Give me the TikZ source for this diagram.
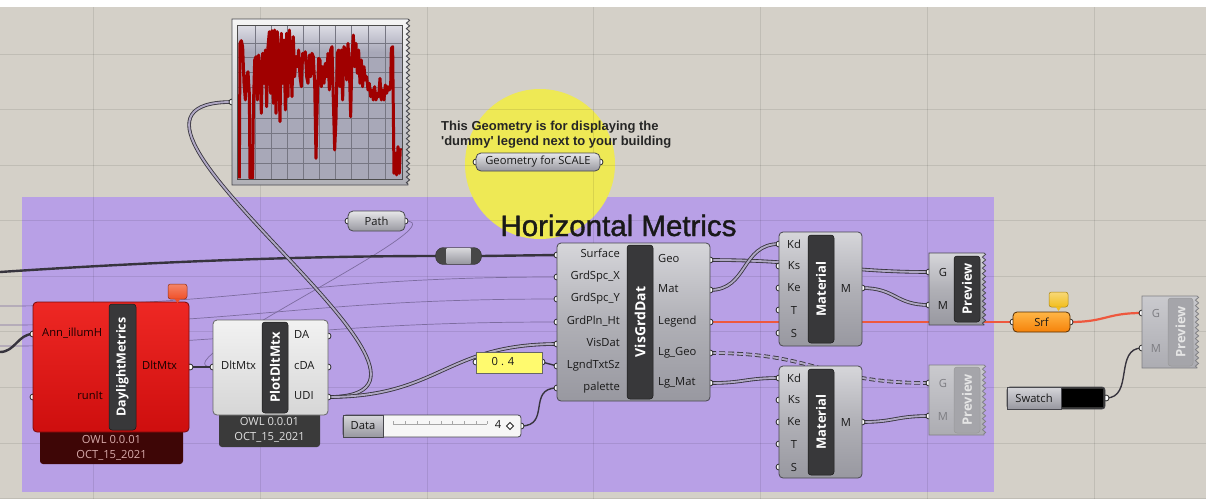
\documentclass[tikz,border=0pt]{standalone}
\usepackage{fontspec}
\setmainfont{Open Sans}
\newfontfamily\arialf{Liberation Sans}
\newfontfamily\arialmed[FakeBold=1.2]{Liberation Sans}
\usetikzlibrary{decorations.pathmorphing}
\definecolor{canvasc}{RGB}{212,208,200}
\definecolor{groupc}{RGB}{184,160,230}
\definecolor{yellowc}{RGB}{238,233,85}
\definecolor{ghtop}{RGB}{214,214,218}
\definecolor{ghmid}{RGB}{176,176,182}
\definecolor{ghbot}{RGB}{152,152,160}
\definecolor{ghedge}{RGB}{72,72,78}
\definecolor{stripc}{RGB}{56,56,58}
\definecolor{labc}{RGB}{25,25,25}
\definecolor{distop}{RGB}{202,202,206}
\definecolor{disbot}{RGB}{172,172,178}
\definecolor{disstrip}{RGB}{165,165,170}
\definecolor{distext}{RGB}{125,125,130}
\definecolor{redtop}{RGB}{238,40,36}
\definecolor{redbot}{RGB}{206,14,14}
\definecolor{rededge}{RGB}{120,10,10}
\definecolor{redfoot}{RGB}{62,6,6}
\definecolor{redft}{RGB}{215,170,170}
\definecolor{whtop}{RGB}{242,242,242}
\definecolor{whbot}{RGB}{214,214,214}
\definecolor{greyfoot}{RGB}{58,58,58}
\definecolor{wiredark}{RGB}{55,52,62}
\definecolor{wirein}{RGB}{176,168,196}
\definecolor{thinw}{RGB}{125,108,160}
\definecolor{redw}{RGB}{238,88,62}
\definecolor{plotbg}{RGB}{168,168,184}
\definecolor{plottop}{RGB}{222,222,230}
\definecolor{plotgrid}{RGB}{118,118,130}
\definecolor{plotred}{RGB}{160,0,0}
\definecolor{orgtop}{RGB}{255,182,70}
\definecolor{orgbot}{RGB}{245,130,10}
\definecolor{panelc}{RGB}{255,250,110}
\definecolor{balred}{RGB}{240,80,40}
\definecolor{balyel}{RGB}{242,190,30}
\tikzset{
  gridl/.style={black, opacity=0.09, line width=0.8pt},
  wdbl/.style={draw=wiredark, line width=0.85pt, double=wirein, double distance=1.9pt},
  wdash/.style={wdbl, dash pattern=on 6pt off 3pt},
  wthk/.style={draw=wiredark, line width=2.4pt},
  wone/.style={draw=wiredark, line width=1.4pt},
  wthin/.style={draw=thinw, line width=0.7pt},
  wred/.style={draw=redw, line width=2.2pt},
  portc/.style={draw=black!85, fill=white, line width=0.8pt},
  gbody/.style={draw=ghedge, line width=0.8pt, rounded corners=4pt, top color=ghtop, bottom color=ghbot, middle color=ghmid, inner sep=0pt},
  strip/.style={draw=black!90, fill=stripc, rounded corners=3pt, line width=0.5pt, inner sep=0pt},
  dstrip/.style={draw=black!40, fill=disstrip, rounded corners=3pt, line width=0.5pt, inner sep=0pt},
  stext/.style={text=white, font=\bfseries\fontsize{13}{13}\selectfont, rotate=90, inner sep=0pt},
  dstext/.style={stext, text=white!80!gray},
  plab/.style={font=\fontsize{11.2}{12}\selectfont, text=labc, inner sep=0pt},
  dlab/.style={plab, text=distext},
  ftxt/.style={font=\fontsize{11.2}{12}\selectfont, inner sep=0pt},
  zz/.style={decoration={zigzag, segment length=5.5pt, amplitude=1.6pt}},
  param/.style={draw=ghedge, line width=0.8pt, rounded corners=5pt, top color=ghtop!60!white, bottom color=ghbot, inner sep=0pt},
  balloon/.style={rounded corners=2.5pt, inner sep=0pt},
}
\begin{document}
\begin{tikzpicture}[x=1pt,y=-1pt]
\useasboundingbox (0,0) rectangle (1206,499);
\fill[canvasc] (0,0) rectangle (1206,499);
\fill[white] (0,0) rectangle (1206,7);
% group
\fill[groupc] (22,197) rectangle (994,492);
% yellow circle
\fill[yellowc] (540,164) circle[radius=75pt];
% grid
\foreach \gx in {93,260,427,593,760,927,1094} \draw[gridl] (\gx,7) -- (\gx,499);
\foreach \gy in {54,109,165,220,276,331,387,443,498} \draw[gridl] (0,\gy) -- (1206,\gy);
% title and note
\node[anchor=base, inner sep=0pt, font=\arialmed\fontsize{29.5}{30}\selectfont, text=black!90] (title) at (618.5,236) {Horizontal Metrics};
\node[anchor=base west, inner sep=0pt, font=\arialf\bfseries\fontsize{13}{14}\selectfont, text=black!85] (note1) at (441,130.5) {This Geometry is for displaying the};
\node[anchor=base west, inner sep=0pt, font=\arialf\bfseries\fontsize{13}{14}\selectfont, text=black!85] (note2) at (441,145.5) {'dummy' legend next to your building};

% ---------- port coordinates
\coordinate (dm-i1) at (33,334); \coordinate (dm-i2) at (33,397); \coordinate (dm-o) at (190,367);
\coordinate (pd-i) at (213,367); \coordinate (pd-da) at (328,336); \coordinate (pd-cda) at (328,367); \coordinate (pd-udi) at (328,397);
\coordinate (gr-i) at (232,102);
\coordinate (pa-i) at (348,221); \coordinate (pa-o) at (405,221);
\coordinate (rl-i) at (436,256); \coordinate (rl-o) at (481,256);
\coordinate (gs-i) at (476,162); \coordinate (gs-o) at (600,162);
\coordinate (pn-i) at (476,362); \coordinate (pn-o) at (542,362);
\coordinate (sl-o) at (521,426);
\coordinate (vg-surf) at (557,255); \coordinate (vg-gsx) at (557,277); \coordinate (vg-gsy) at (557,299);
\coordinate (vg-gph) at (557,322); \coordinate (vg-vis) at (557,344); \coordinate (vg-lts) at (557,366); \coordinate (vg-pal) at (557,388);
\coordinate (vg-geo) at (710,260); \coordinate (vg-mat) at (710,290); \coordinate (vg-leg) at (710,322); \coordinate (vg-lgg) at (710,353); \coordinate (vg-lgm) at (710,383);
\coordinate (m1-kd) at (779,244); \coordinate (m1-ks) at (779,266); \coordinate (m1-ke) at (779,288); \coordinate (m1-t) at (779,310); \coordinate (m1-s) at (779,333); \coordinate (m1-o) at (862,288);
\coordinate (m2-kd) at (779,378); \coordinate (m2-ks) at (779,400); \coordinate (m2-ke) at (779,422); \coordinate (m2-t) at (779,444); \coordinate (m2-s) at (779,467); \coordinate (m2-o) at (862,422);
\coordinate (p1-g) at (929,272); \coordinate (p1-m) at (929,305);
\coordinate (p2-g) at (929,383); \coordinate (p2-m) at (929,416);
\coordinate (sf-i) at (1013,322); \coordinate (sf-o) at (1070,322);
\coordinate (sw-o) at (1106,398);
\coordinate (p3-g) at (1142,313); \coordinate (p3-m) at (1142,348);
\coordinate (lf0) at (0,272); \coordinate (lf1) at (0,306); \coordinate (lf2) at (0,325); \coordinate (lf3) at (0,346); \coordinate (lf4) at (0,352);

% ---------- wires
\draw[wthin] (lf1) .. controls (250,306) and (300,277) .. (vg-gsx);
\draw[wthin] (lf2) .. controls (250,325) and (300,299) .. (vg-gsy);
\draw[wthin] (lf3) .. controls (250,346) and (300,322) .. (vg-gph);
\draw[wthin] (pa-o) .. controls (465,221) and (150,367) .. (pd-i);
\draw[wthk] (lf0) .. controls (150,262) and (300,256) .. (rl-i);
\draw[wthk] (rl-o) -- (vg-surf);
\draw[wthk] (lf4) .. controls (15,352) and (18,334) .. (dm-i1);
\draw[wone] (dm-o) -- (pd-i);
\draw[wdbl] (pd-udi) .. controls (508,397) and (52,102) .. (gr-i);
\draw[wdbl] (pd-udi) .. controls (440,397) and (445,344) .. (vg-vis);
\draw[wone] (pn-o) -- (vg-lts);
\draw[wone] (sl-o) .. controls (551,426) and (527,388) .. (vg-pal);
\draw[wdbl] (vg-geo) .. controls (810,260) and (840,272) .. (p1-g);
\draw[wdbl] (vg-mat) .. controls (748,290) and (741,244) .. (m1-kd);
\draw[wdbl] (m1-o) .. controls (896,288) and (895,305) .. (p1-m);
\draw[wred] (vg-leg) -- (sf-i);
\draw[wred] (sf-o) .. controls (1106,322) and (1106,313) .. (p3-g);
\draw[wdash] (vg-lgg) .. controls (820,353) and (820,383) .. (p2-g);
\draw[wdbl] (vg-lgm) .. controls (745,383) and (745,378) .. (m2-kd);
\draw[wdbl] (m2-o) .. controls (895,422) and (895,416) .. (p2-m);
\draw[wone] (sw-o) .. controls (1134,398) and (1114,348) .. (p3-m);

% ---------- ports
\foreach \p in {dm-i1,dm-i2,dm-o,pd-i,pd-da,pd-cda,pd-udi,gr-i,pa-i,pa-o,gs-i,gs-o,pn-i,pn-o,sl-o,vg-surf,vg-gsx,vg-gsy,vg-gph,vg-vis,vg-lts,vg-pal,vg-geo,vg-mat,vg-leg,vg-lgg,vg-lgm,m1-kd,m1-ks,m1-ke,m1-t,m1-s,m1-o,m2-kd,m2-ks,m2-ke,m2-t,m2-s,m2-o,p1-g,p1-m,p2-g,p2-m,sf-i,sf-o,sw-o,p3-g,p3-m}
  \draw[portc] (\p) circle[radius=3pt];

% ---------- graph (top)
\draw[draw=ghedge, line width=0.9pt, top color=white!92!gray, bottom color=ghmid] (232,19) -- (408,19) decorate[zz]{-- (408,185)} -- (232,185) -- cycle;
\fill[plotbg] (237,25) rectangle (402,179);
\shade[top color=plottop, bottom color=plotbg] (237,25) rectangle (402,52);
\begin{scope}
\clip (237,25) rectangle (402,179);
\foreach \gx in {255,271,287,303,319,335,351,368,385} \draw[plotgrid, line width=0.6pt] (\gx,25) -- (\gx,179);
\foreach \gy in {43,57,72,87,103,118,133,148,163} \draw[plotgrid, line width=0.6pt] (237,\gy) -- (402,\gy);
\begin{scope}[shift={(220,0)}, x=0.3333pt, y=-0.3333pt]
\draw[plotred, line width=3pt, line join=round] plot coordinates {(58,535) (60,130) (64,122) (68,140) (72,250) (76,300) (80,230) (84,215) (88,280) (90,535) (98,535) (100,330) (104,180) (108,170) (112,300) (116,165) (120,200) (124,340) (128,160) (132,250) (136,150) (140,320) (144,140) (148,95) (152,280) (156,92) (160,310) (164,90) (168,340) (172,95) (176,200) (180,365) (184,100) (188,250) (192,120) (196,330) (200,100) (204,290) (208,90) (212,150) (216,290) (220,110) (224,230) (228,170) (232,200) (236,150) (240,230) (244,260) (248,160) (252,180) (256,155) (260,230) (264,250) (268,165) (272,230) (276,160) (280,170) (284,250) (288,475) (292,300) (296,175) (300,180) (304,260) (308,200) (312,250) (316,190) (320,230) (324,160) (328,270) (332,150) (336,140) (340,300) (344,450) (348,360) (352,160) (356,150) (360,260) (364,150) (368,300) (372,140) (376,150) (380,240) (384,130) (388,200) (392,350) (396,170) (400,105) (404,200) (408,130) (412,220) (416,150) (420,250) (424,180) (428,260) (432,200) (436,240) (440,230) (444,270) (448,250) (452,290) (456,270) (460,300) (464,260) (468,300) (472,280) (476,290) (480,235) (484,300) (488,270) (492,300) (496,255) (500,280) (504,260) (508,270) (512,260) (514,145) (518,140) (522,520) (526,460) (530,525) (534,440) (538,520) (541,445)};
\end{scope}
\end{scope}
\draw[draw=black!70, line width=0.8pt] (237,25) rectangle (402,179);

% ---------- Geometry for SCALE
\node[param, minimum width=124pt, minimum height=18pt] (gs) at (538,162) {};
\node[plab] (gst) at (538,162) {Geometry for SCALE};

% ---------- Path
\node[param, minimum width=57pt, minimum height=20pt] (pa) at (376.5,221) {};
\node[plab] (pat) at (376.5,221) {Path};

% ---------- relay
\node[draw=black!80, fill=black!72, rounded corners=8pt, minimum width=46pt, minimum height=17pt, inner sep=0pt] (rl) at (458.5,256) {};
\node[top color=ghtop, bottom color=ghbot, minimum width=24pt, minimum height=15pt, inner sep=0pt] (rlm) at (458.5,256) {};

% ---------- DaylightMetrics
\node[fill=redfoot, rounded corners=3pt, minimum width=143pt, minimum height=36pt, inner sep=0pt] (dmf) at (111.5,446) {};
\node[draw=rededge, line width=0.8pt, rounded corners=4pt, top color=redtop, bottom color=redbot, minimum width=156pt, minimum height=130pt, inner sep=0pt] (dm) at (111,367) {};
\node[strip, minimum width=27pt, minimum height=126pt] (dms) at (122.5,367) {};
\node[stext, font=\bfseries\fontsize{12.5}{13}\selectfont] (dml) at (122.5,367) {DaylightMetrics};
\node[plab, text=black!90!red, anchor=mid west] (dml1) at (42,334) {Ann\_illumH};
\node[plab, text=black!90!red, anchor=mid east] (dml2) at (103,397) {runIt};
\node[plab, text=black!90!red, anchor=mid west] (dml3) at (142,367) {DltMtx};
\node[ftxt, text=redft] (dmf1) at (111.5,440) {OWL 0.0.01};
\node[ftxt, text=redft] (dmf2) at (111.5,455) {OCT\_15\_2021};
\node[balloon, draw=black!40!balred, line width=0.5pt, top color=balred!70!white, bottom color=balred, minimum width=19pt, minimum height=15pt] (dmb) at (177.5,291.5) {};
\fill[balred] (174.5,298.5) -- (180.5,298.5) -- (177.5,303) -- cycle;

% ---------- PlotDltMtx
\node[fill=greyfoot, rounded corners=3pt, minimum width=101pt, minimum height=36pt, inner sep=0pt] (pdf) at (269.5,429) {};
\node[draw=black!60, line width=0.8pt, rounded corners=4pt, top color=whtop, bottom color=whbot, minimum width=115pt, minimum height=95pt, inner sep=0pt] (pd) at (270.5,367.5) {};
\node[strip, minimum width=26pt, minimum height=91pt] (pds) at (275,367.5) {};
\node[stext] (pdl) at (275,367.5) {PlotDltMtx};
\node[plab, anchor=mid west] (pdl1) at (221,367) {DltMtx};
\node[plab, anchor=mid west] (pdl2) at (294,336) {DA};
\node[plab, anchor=mid west] (pdl3) at (294,367) {cDA};
\node[plab, anchor=mid west] (pdl4) at (294,397) {UDI};
\node[ftxt, text=white!88!black] (pdf1) at (269.5,422) {OWL 0.0.01};
\node[ftxt, text=white!88!black] (pdf2) at (269.5,437) {OCT\_15\_2021};

% ---------- panel 0.4
\node[draw=black!60, fill=panelc, minimum width=66pt, minimum height=21pt, inner sep=0pt] (pn) at (509,362.5) {};
\node[plab] (pnt) at (503,361.5) {0 . 4};

% ---------- slider
\node[draw=ghedge, line width=0.8pt, rounded corners=3pt, fill=white!93!gray, minimum width=178pt, minimum height=22pt, inner sep=0pt] (sl) at (432,426) {};
\node[draw=ghedge, line width=0.6pt, top color=ghtop, bottom color=ghbot, minimum width=40pt, minimum height=22pt, inner sep=0pt] (sld) at (363,426) {};
\node[plab] (sldt) at (363,426) {Data};
\draw[black!35, line width=0.5pt] (393,424) -- (487,424);
\foreach \tx in {393,405,417,429,441,452,464,476,487} \draw[black!35, line width=0.5pt] (\tx,421) -- (\tx,424);
\node[plab, anchor=mid] (slv) at (498,426) {4};
\draw[black!85, line width=0.9pt, fill=white] (510,422.5) -- (513.5,426) -- (510,429.5) -- (506.5,426) -- cycle;

% ---------- VisGrdDat
\node[gbody, minimum width=153pt, minimum height=158pt] (vg) at (633.5,322) {};
\node[strip, minimum width=26pt, minimum height=154pt] (vgs) at (640,322) {};
\node[stext, font=\bfseries\fontsize{14}{14}\selectfont] (vgl) at (640,322) {VisGrdDat};
\node[plab, anchor=mid east] (vgi1) at (620,255) {Surface};
\node[plab, anchor=mid east] (vgi2) at (620,277) {GrdSpc\_X};
\node[plab, anchor=mid east] (vgi3) at (620,299) {GrdSpc\_Y};
\node[plab, anchor=mid east] (vgi4) at (620,322) {GrdPln\_Ht};
\node[plab, anchor=mid east] (vgi5) at (620,344) {VisDat};
\node[plab, anchor=mid east] (vgi6) at (620,366) {LgndTxtSz};
\node[plab, anchor=mid east] (vgi7) at (620,388) {palette};
\node[plab, anchor=mid west] (vgo1) at (658,260) {Geo};
\node[plab, anchor=mid west] (vgo2) at (658,290) {Mat};
\node[plab, anchor=mid west] (vgo3) at (658,322) {Legend};
\node[plab, anchor=mid west] (vgo4) at (658,353) {Lg\_Geo};
\node[plab, anchor=mid west] (vgo5) at (658,383) {Lg\_Mat};

% ---------- Material 1
\node[gbody, minimum width=83pt, minimum height=114pt] (m1) at (820.5,289) {};
\node[strip, minimum width=26pt, minimum height=108pt] (m1s) at (821,289) {};
\node[stext] (m1l) at (821,289) {Material};
\node[plab] (m1a) at (794,244) {Kd};
\node[plab] (m1b) at (794,266) {Ks};
\node[plab] (m1c) at (794,288) {Ke};
\node[plab] (m1d) at (794,310) {T};
\node[plab] (m1e) at (794,333) {S};
\node[plab] (m1f) at (846,288) {M};

% ---------- Material 2
\node[gbody, minimum width=83pt, minimum height=112pt] (m2) at (820.5,422) {};
\node[strip, minimum width=26pt, minimum height=106pt] (m2s) at (821,422) {};
\node[stext] (m2l) at (821,422) {Material};
\node[plab] (m2a) at (794,378) {Kd};
\node[plab] (m2b) at (794,400) {Ks};
\node[plab] (m2c) at (794,422) {Ke};
\node[plab] (m2d) at (794,444) {T};
\node[plab] (m2e) at (794,467) {S};
\node[plab] (m2f) at (846,422) {M};

% ---------- Preview 1
\draw[draw=ghedge, line width=0.8pt, top color=ghtop, bottom color=ghbot, middle color=ghmid] (929,253) -- (984,253) decorate[zz]{-- (984,325)} -- (929,325) -- cycle;
\node[strip, minimum width=26pt, minimum height=66pt] (p1s) at (967,289) {};
\node[stext] (p1l) at (967,289) {Preview};
\node[plab] (p1a) at (943,272) {G};
\node[plab] (p1b) at (943,305) {M};

% ---------- Preview 2 (disabled)
\draw[draw=ghedge!70, line width=0.8pt, top color=distop, bottom color=disbot] (929,365) -- (984,365) decorate[zz]{-- (984,435)} -- (929,435) -- cycle;
\node[dstrip, minimum width=26pt, minimum height=66pt] (p2s) at (967,400) {};
\node[dstext] (p2l) at (967,400) {Preview};
\node[dlab] (p2a) at (943,383) {G};
\node[dlab] (p2b) at (943,416) {M};

% ---------- Srf
\node[draw=black!65!orgbot, line width=0.8pt, rounded corners=4pt, top color=orgtop, bottom color=orgbot, minimum width=57pt, minimum height=20pt, inner sep=0pt] (sf) at (1041.5,322) {};
\node[plab] (sft) at (1041.5,322) {Srf};
\node[balloon, draw=black!30!balyel, line width=0.5pt, top color=balyel!60!white, bottom color=balyel, minimum width=19pt, minimum height=15pt] (sfb) at (1058.5,299.5) {};
\fill[balyel] (1055.5,306.5) -- (1061.5,306.5) -- (1058.5,311) -- cycle;

% ---------- Swatch
\node[draw=ghedge, line width=0.8pt, rounded corners=3pt, fill=black!80, minimum width=98pt, minimum height=22pt, inner sep=0pt] (sw) at (1056,398) {};
\node[draw=ghedge, line width=0.6pt, top color=ghtop, bottom color=ghbot, minimum width=54pt, minimum height=22pt, inner sep=0pt] (swl) at (1034,398) {};
\node[plab] (swt) at (1034,398) {Swatch};
\node[fill=black, minimum width=41pt, minimum height=18pt, inner sep=0pt] (swc) at (1082.5,398) {};

% ---------- Preview 3 (greyed)
\draw[draw=ghedge!70, line width=0.8pt, top color=distop, bottom color=disbot] (1142,296) -- (1197,296) decorate[zz]{-- (1197,368)} -- (1142,368) -- cycle;
\node[dstrip, minimum width=25pt, minimum height=68pt] (p3s) at (1180.5,332) {};
\node[dstext] (p3l) at (1180.5,332) {Preview};
\node[dlab] (p3a) at (1156,313) {G};
\node[dlab] (p3b) at (1156,348) {M};
\end{tikzpicture}
\end{document}
